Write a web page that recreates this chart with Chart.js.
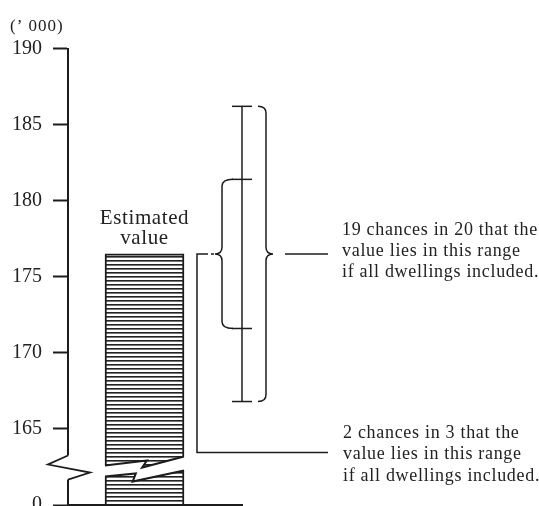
<!DOCTYPE html>
<html>
<head>
<meta charset="utf-8">
<title>Estimated value and sampling range</title>
<script src="https://cdn.jsdelivr.net/npm/chart.js@4.4.1/dist/chart.umd.min.js"></script>
<style>
  html, body { margin: 0; padding: 0; background: #fff; }
  canvas { display: block; }
</style>
</head>
<body>
<canvas id="errorChart" width="539" height="506"></canvas>
<script>
// Data ('000 dwellings)
const estimate = [176.5];
const twoInThree = [171.6, 181.4];
const nineteenInTwenty = [166.8, 186.2];
const tickValues = [160, 165, 170, 175, 180, 185, 190];
const tickLabels = ['0', '165', '170', '175', '180', '185', '190'];
const unitLabel = '(\u2019 000)';
const barText = ['Estimated', 'value'];
const wideNote = ['19 chances in 20 that the', 'value lies in this range', 'if all dwellings included.'];
const narrowNote = ['2 chances in 3 that the', 'value lies in this range', 'if all dwellings included.'];

// Layout (x scale units are 10px wide)
const BAR_X = 7.65;
const RANGE_X = 17.4;
const AXIS_END_X = 17.5;
const BREAK_AT = 162.2;
const NARROW_NOTE_AT = 163.45;

const ink = '#1c1c1c';
const serif = '"Liberation Serif", "DejaVu Serif", serif';

// Horizontal hatching for the bar
function makeHatch(ctx) {
    const c = document.createElement('canvas');
    c.width = 8;
    c.height = 4;
    const g = c.getContext('2d');
    g.fillStyle = '#fff';
    g.fillRect(0, 0, 8, 4);
    g.fillStyle = '#222';
    g.fillRect(0, 0, 8, 1);
    g.fillStyle = '#777';
    g.fillRect(0, 1, 8, 1);
    return ctx.createPattern(c, 'repeat');
}

function line(ctx, x1, y1, x2, y2) {
    ctx.beginPath();
    ctx.moveTo(x1, y1);
    ctx.lineTo(x2, y2);
    ctx.stroke();
}

// dir 1 = "}" , dir -1 = "{"
function drawBrace(ctx, x, top, bottom, mid, dir, hook, tip) {
    const r = 7;
    ctx.beginPath();
    ctx.moveTo(x - dir * hook, top);
    ctx.quadraticCurveTo(x, top, x, top + r);
    ctx.lineTo(x, mid - r);
    ctx.quadraticCurveTo(x, mid, x + dir * tip, mid);
    ctx.quadraticCurveTo(x, mid, x, mid + r);
    ctx.lineTo(x, bottom - r);
    ctx.quadraticCurveTo(x, bottom, x - dir * hook, bottom);
    ctx.stroke();
}

function drawLines(ctx, lines, x, firstBaseline, lineHeight) {
    lines.forEach((t, i) => ctx.fillText(t, x, firstBaseline + i * lineHeight));
}

const annotations = {
    id: 'annotations',
    afterDatasetsDraw(chart) {
        const ctx = chart.ctx;
        const xs = chart.scales.x;
        const ys = chart.scales.y;
        const area = chart.chartArea;
        const bar = chart.getDatasetMeta(0).data[0];
        const left = bar.x - bar.width / 2;
        const right = bar.x + bar.width / 2;
        const w = right - left;
        const pb = ys.getPixelForValue(BREAK_AT);

        ctx.save();
        ctx.strokeStyle = ink;
        ctx.lineJoin = 'miter';

        // Break in the bar
        const upper = [[0, -6], [0.53, -11], [0.47, -4], [1, -15]];
        const lower = [[0, 5], [0.39, 2], [0.35, 10], [1, -1]];
        ctx.fillStyle = '#fff';
        ctx.beginPath();
        ctx.moveTo(left - 2, pb + upper[0][1]);
        upper.forEach(p => ctx.lineTo(left + p[0] * w, pb + p[1]));
        ctx.lineTo(right + 2, pb + upper[3][1]);
        ctx.lineTo(right + 2, pb + lower[3][1]);
        lower.slice().reverse().forEach(p => ctx.lineTo(left + p[0] * w, pb + p[1]));
        ctx.lineTo(left - 2, pb + lower[0][1]);
        ctx.closePath();
        ctx.fill();
        ctx.lineWidth = 2;
        [upper, lower].forEach(edge => {
            ctx.beginPath();
            edge.forEach((p, i) => {
                const px = left + p[0] * w;
                if (i === 0) ctx.moveTo(px, pb + p[1]);
                else ctx.lineTo(px, pb + p[1]);
            });
            ctx.stroke();
        });

        // Baseline
        ctx.lineWidth = 2;
        line(ctx, area.left, area.bottom, xs.getPixelForValue(AXIS_END_X), area.bottom);

        // Break in the axis
        ctx.fillStyle = '#fff';
        ctx.fillRect(area.left - 2, pb - 16, 4, 24);
        ctx.lineWidth = 1.8;
        ctx.beginPath();
        ctx.moveTo(area.left, pb - 16);
        ctx.lineTo(area.left - 20, pb - 7);
        ctx.lineTo(area.left + 22, pb + 1);
        ctx.lineTo(area.left, pb + 8);
        ctx.stroke();

        // Ranges
        const ex = xs.getPixelForValue(RANGE_X);
        const pEst = ys.getPixelForValue(estimate[0]);
        const pIn = twoInThree.map(v => ys.getPixelForValue(v));
        const pOut = nineteenInTwenty.map(v => ys.getPixelForValue(v));
        ctx.lineWidth = 1.5;
        line(ctx, ex, pOut[1], ex, pOut[0]);
        pIn.concat(pOut).forEach(p => line(ctx, ex - 10, p, ex + 10, p));

        drawBrace(ctx, ex + 24, pOut[1], pOut[0], pEst, 1, 8, 7);
        drawBrace(ctx, ex - 20, pIn[1], pIn[0], pEst, -1, 11, 7);

        // Connectors to the notes
        line(ctx, ex + 43, pEst, ex + 86, pEst);
        const pNarrow = ys.getPixelForValue(NARROW_NOTE_AT);
        ctx.beginPath();
        ctx.moveTo(ex + 86, pNarrow);
        ctx.lineTo(ex - 45, pNarrow);
        ctx.lineTo(ex - 45, pEst);
        ctx.lineTo(ex - 38, pEst);
        ctx.stroke();
        ctx.setLineDash([4, 3]);
        line(ctx, ex - 38, pEst, ex - 28, pEst);
        ctx.setLineDash([]);

        // Texts
        ctx.fillStyle = '#222';
        ctx.textBaseline = 'alphabetic';
        ctx.font = '21px ' + serif;
        ctx.letterSpacing = '0.6px';
        ctx.textAlign = 'center';
        drawLines(ctx, barText, bar.x, pEst - 29.5, 20);

        ctx.textAlign = 'left';
        ctx.font = '18px ' + serif;
        ctx.letterSpacing = '0.7px';
        drawLines(ctx, wideNote, ex + 100, pEst - 19, 21);
        drawLines(ctx, narrowNote, ex + 101, pNarrow - 15, 21.7);

        ctx.font = '17px ' + serif;
        ctx.letterSpacing = '1px';
        ctx.fillText(unitLabel, 10, 31);
        ctx.restore();
    }
};

const canvas = document.getElementById('errorChart');
const hatch = makeHatch(canvas.getContext('2d'));

new Chart(canvas, {
    type: 'bar',
    data: {
        datasets: [{
            data: [{ x: BAR_X, y: estimate[0] }],
            backgroundColor: hatch,
            borderColor: ink,
            borderWidth: 2,
            borderSkipped: false,
            barThickness: 79
        }]
    },
    options: {
        responsive: false,
        animation: false,
        layout: {
            autoPadding: false,
            padding: { left: 0, top: 48.5, right: 11, bottom: 1 }
        },
        plugins: {
            legend: { display: false },
            tooltip: { enabled: false }
        },
        scales: {
            x: {
                type: 'linear',
                min: 0,
                max: 46,
                offset: false,
                grid: { offset: false },
                display: false
            },
            y: {
                type: 'linear',
                min: 160,
                max: 190,
                afterBuildTicks: axis => {
                    axis.ticks = tickValues.map(v => ({ value: v }));
                },
                afterFit: scale => {
                    scale.width = 68;
                    scale.paddingTop = 0;
                    scale.paddingBottom = 0;
                },
                ticks: {
                    padding: 11,
                    color: '#222',
                    font: { family: serif, size: 20 },
                    callback: value => tickLabels[tickValues.indexOf(value)]
                },
                grid: {
                    drawOnChartArea: false,
                    tickLength: 15,
                    tickWidth: 2,
                    tickColor: ink
                },
                border: {
                    color: ink,
                    width: 2
                }
            }
        }
    },
    plugins: [annotations]
});
</script>
</body>
</html>
